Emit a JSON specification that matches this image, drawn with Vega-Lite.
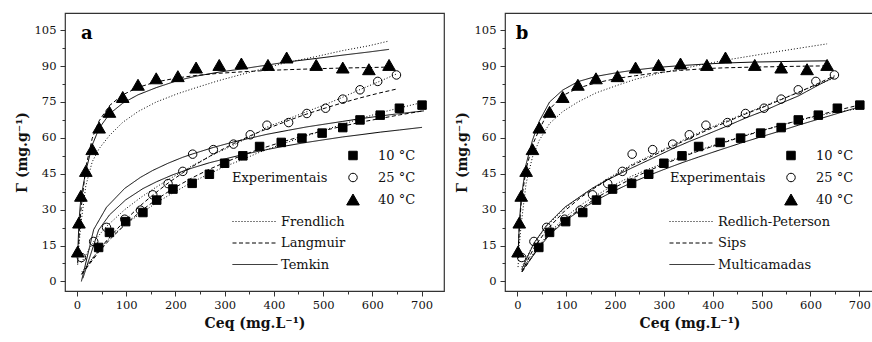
{
"$schema":"https://vega.github.io/schema/vega-lite/v6.json",
"background":"white",
"padding":{"left":14,"top":12,"right":1,"bottom":0},
"spacing":61,
"bounds":"flush",
"config":{"font":"DejaVu Serif","view":{"stroke":"#333","strokeWidth":1.2},
 "axis":{"domain":false,"grid":false,"tickColor":"#333","labelFont":"DejaVu Serif","labelFontSize":11.5,"labelColor":"#111","titleFont":"DejaVu Serif","titleFontSize":14,"titleFontWeight":"bold","titleColor":"#111"},
 "legend":{"labelFont":"DejaVu Serif","titleFont":"DejaVu Serif","labelColor":"#111","titleColor":"#111"}},
"datasets":{
"pts":[
{"T":"10 °C","x":44,"y":14.2},{"T":"10 °C","x":66,"y":20.5},{"T":"10 °C","x":99,"y":25},{"T":"10 °C","x":134,"y":28.8},{"T":"10 °C","x":162,"y":34},{"T":"10 °C","x":195,"y":38.6},{"T":"10 °C","x":234,"y":41},{"T":"10 °C","x":269,"y":44.8},{"T":"10 °C","x":300,"y":49.4},{"T":"10 °C","x":337,"y":52.5},{"T":"10 °C","x":371,"y":56.4},{"T":"10 °C","x":415,"y":58.1},{"T":"10 °C","x":457,"y":59.9},{"T":"10 °C","x":498,"y":62},{"T":"10 °C","x":540,"y":64.3},{"T":"10 °C","x":575,"y":67.5},{"T":"10 °C","x":616,"y":69.5},{"T":"10 °C","x":655,"y":72.4},{"T":"10 °C","x":701,"y":73.7},
{"T":"25 °C","x":9,"y":10},{"T":"25 °C","x":34,"y":16.7},{"T":"25 °C","x":60,"y":22.6},{"T":"25 °C","x":97,"y":26},{"T":"25 °C","x":129,"y":29.8},{"T":"25 °C","x":154,"y":36.2},{"T":"25 °C","x":185,"y":40.9},{"T":"25 °C","x":215,"y":46},{"T":"25 °C","x":235,"y":53.2},{"T":"25 °C","x":277,"y":55.1},{"T":"25 °C","x":318,"y":57.4},{"T":"25 °C","x":352,"y":61.3},{"T":"25 °C","x":386,"y":65.3},{"T":"25 °C","x":430,"y":66.4},{"T":"25 °C","x":467,"y":70.2},{"T":"25 °C","x":505,"y":72.4},{"T":"25 °C","x":540,"y":76.2},{"T":"25 °C","x":575,"y":80.1},{"T":"25 °C","x":611,"y":83.6},{"T":"25 °C","x":649,"y":86.3},
{"T":"40 °C","x":1.5,"y":12.5},{"T":"40 °C","x":4,"y":24.6},{"T":"40 °C","x":8,"y":35.8},{"T":"40 °C","x":18,"y":46.2},{"T":"40 °C","x":31,"y":55.3},{"T":"40 °C","x":45,"y":64.3},{"T":"40 °C","x":66,"y":70.9},{"T":"40 °C","x":93,"y":77.1},{"T":"40 °C","x":124,"y":82.2},{"T":"40 °C","x":161,"y":84.9},{"T":"40 °C","x":205,"y":85.8},{"T":"40 °C","x":242,"y":89.4},{"T":"40 °C","x":289,"y":90.5},{"T":"40 °C","x":334,"y":91.1},{"T":"40 °C","x":388,"y":90.5},{"T":"40 °C","x":426,"y":93.6},{"T":"40 °C","x":486,"y":90.5},{"T":"40 °C","x":540,"y":89.4},{"T":"40 °C","x":593,"y":88.7},{"T":"40 °C","x":634,"y":90.5}],
"fitA":[
{"m":"Frendlich","T":"10","x":10,"y":4},{"m":"Frendlich","T":"10","x":44,"y":13},{"m":"Frendlich","T":"10","x":66,"y":18},{"m":"Frendlich","T":"10","x":99,"y":24},{"m":"Frendlich","T":"10","x":134,"y":29},{"m":"Frendlich","T":"10","x":162,"y":33},{"m":"Frendlich","T":"10","x":195,"y":37},{"m":"Frendlich","T":"10","x":234,"y":41.5},{"m":"Frendlich","T":"10","x":269,"y":45},{"m":"Frendlich","T":"10","x":300,"y":48},{"m":"Frendlich","T":"10","x":337,"y":51},{"m":"Frendlich","T":"10","x":371,"y":54},{"m":"Frendlich","T":"10","x":415,"y":57.3},{"m":"Frendlich","T":"10","x":457,"y":60.2},{"m":"Frendlich","T":"10","x":498,"y":63},{"m":"Frendlich","T":"10","x":540,"y":65.7},{"m":"Frendlich","T":"10","x":575,"y":68},{"m":"Frendlich","T":"10","x":616,"y":70.5},{"m":"Frendlich","T":"10","x":655,"y":72.5},{"m":"Frendlich","T":"10","x":701,"y":74.8},
{"m":"Langmuir","T":"10","x":10,"y":3.1},{"m":"Langmuir","T":"10","x":44,"y":12.2},{"m":"Langmuir","T":"10","x":66,"y":17.4},{"m":"Langmuir","T":"10","x":99,"y":24},{"m":"Langmuir","T":"10","x":134,"y":30.1},{"m":"Langmuir","T":"10","x":162,"y":34.3},{"m":"Langmuir","T":"10","x":195,"y":38.8},{"m":"Langmuir","T":"10","x":234,"y":43.3},{"m":"Langmuir","T":"10","x":269,"y":46.9},{"m":"Langmuir","T":"10","x":300,"y":49.7},{"m":"Langmuir","T":"10","x":337,"y":52.8},{"m":"Langmuir","T":"10","x":371,"y":55.3},{"m":"Langmuir","T":"10","x":415,"y":58.2},{"m":"Langmuir","T":"10","x":457,"y":60.7},{"m":"Langmuir","T":"10","x":498,"y":62.9},{"m":"Langmuir","T":"10","x":540,"y":64.9},{"m":"Langmuir","T":"10","x":575,"y":66.5},{"m":"Langmuir","T":"10","x":616,"y":68.1},{"m":"Langmuir","T":"10","x":655,"y":69.6},{"m":"Langmuir","T":"10","x":701,"y":71.2},
{"m":"Temkin","T":"10","x":12,"y":1.3},{"m":"Temkin","T":"10","x":44,"y":21.5},{"m":"Temkin","T":"10","x":66,"y":27.8},{"m":"Temkin","T":"10","x":99,"y":34.1},{"m":"Temkin","T":"10","x":134,"y":38.8},{"m":"Temkin","T":"10","x":162,"y":41.7},{"m":"Temkin","T":"10","x":195,"y":44.6},{"m":"Temkin","T":"10","x":234,"y":47.4},{"m":"Temkin","T":"10","x":269,"y":49.6},{"m":"Temkin","T":"10","x":300,"y":51.2},{"m":"Temkin","T":"10","x":337,"y":53},{"m":"Temkin","T":"10","x":371,"y":54.5},{"m":"Temkin","T":"10","x":415,"y":56.3},{"m":"Temkin","T":"10","x":457,"y":57.8},{"m":"Temkin","T":"10","x":498,"y":59.1},{"m":"Temkin","T":"10","x":540,"y":60.4},{"m":"Temkin","T":"10","x":575,"y":61.3},{"m":"Temkin","T":"10","x":616,"y":62.4},{"m":"Temkin","T":"10","x":655,"y":63.3},{"m":"Temkin","T":"10","x":701,"y":64.4},
{"m":"Frendlich","T":"25","x":9,"y":7.9},{"m":"Frendlich","T":"25","x":34,"y":16.7},{"m":"Frendlich","T":"25","x":60,"y":23},{"m":"Frendlich","T":"25","x":97,"y":30},{"m":"Frendlich","T":"25","x":129,"y":35},{"m":"Frendlich","T":"25","x":154,"y":38.5},{"m":"Frendlich","T":"25","x":185,"y":42.5},{"m":"Frendlich","T":"25","x":215,"y":46},{"m":"Frendlich","T":"25","x":235,"y":48.5},{"m":"Frendlich","T":"25","x":277,"y":53},{"m":"Frendlich","T":"25","x":318,"y":57},{"m":"Frendlich","T":"25","x":352,"y":60.5},{"m":"Frendlich","T":"25","x":386,"y":64.5},{"m":"Frendlich","T":"25","x":430,"y":68},{"m":"Frendlich","T":"25","x":467,"y":71},{"m":"Frendlich","T":"25","x":505,"y":74},{"m":"Frendlich","T":"25","x":540,"y":77},{"m":"Frendlich","T":"25","x":575,"y":80.2},{"m":"Frendlich","T":"25","x":611,"y":83.3},{"m":"Frendlich","T":"25","x":649,"y":86.7},
{"m":"Langmuir","T":"25","x":9,"y":2.9},{"m":"Langmuir","T":"25","x":34,"y":10.2},{"m":"Langmuir","T":"25","x":60,"y":17},{"m":"Langmuir","T":"25","x":97,"y":25.4},{"m":"Langmuir","T":"25","x":129,"y":31.7},{"m":"Langmuir","T":"25","x":154,"y":36.1},{"m":"Langmuir","T":"25","x":185,"y":41.1},{"m":"Langmuir","T":"25","x":215,"y":45.4},{"m":"Langmuir","T":"25","x":235,"y":48.1},{"m":"Langmuir","T":"25","x":277,"y":53.2},{"m":"Langmuir","T":"25","x":318,"y":57.6},{"m":"Langmuir","T":"25","x":352,"y":60.9},{"m":"Langmuir","T":"25","x":386,"y":63.8},{"m":"Langmuir","T":"25","x":430,"y":67.3},{"m":"Langmuir","T":"25","x":467,"y":70},{"m":"Langmuir","T":"25","x":505,"y":72.5},{"m":"Langmuir","T":"25","x":540,"y":74.7},{"m":"Langmuir","T":"25","x":575,"y":76.7},{"m":"Langmuir","T":"25","x":611,"y":78.6},{"m":"Langmuir","T":"25","x":649,"y":80.4},
{"m":"Temkin","T":"25","x":9,"y":0},{"m":"Temkin","T":"25","x":34,"y":21.7},{"m":"Temkin","T":"25","x":60,"y":31},{"m":"Temkin","T":"25","x":97,"y":38.9},{"m":"Temkin","T":"25","x":129,"y":43.5},{"m":"Temkin","T":"25","x":154,"y":46.4},{"m":"Temkin","T":"25","x":185,"y":49.4},{"m":"Temkin","T":"25","x":215,"y":51.9},{"m":"Temkin","T":"25","x":235,"y":53.3},{"m":"Temkin","T":"25","x":277,"y":56},{"m":"Temkin","T":"25","x":318,"y":58.3},{"m":"Temkin","T":"25","x":352,"y":59.9},{"m":"Temkin","T":"25","x":386,"y":61.5},{"m":"Temkin","T":"25","x":430,"y":63.2},{"m":"Temkin","T":"25","x":467,"y":64.6},{"m":"Temkin","T":"25","x":505,"y":65.8},{"m":"Temkin","T":"25","x":540,"y":66.9},{"m":"Temkin","T":"25","x":575,"y":68},{"m":"Temkin","T":"25","x":611,"y":69},{"m":"Temkin","T":"25","x":649,"y":70},{"m":"Temkin","T":"25","x":705,"y":71.3},
{"m":"Frendlich","T":"40","x":1.5,"y":7},{"m":"Frendlich","T":"40","x":4,"y":15},{"m":"Frendlich","T":"40","x":8,"y":24},{"m":"Frendlich","T":"40","x":18,"y":40},{"m":"Frendlich","T":"40","x":31,"y":50},{"m":"Frendlich","T":"40","x":45,"y":55.5},{"m":"Frendlich","T":"40","x":66,"y":61},{"m":"Frendlich","T":"40","x":93,"y":66.5},{"m":"Frendlich","T":"40","x":124,"y":71},{"m":"Frendlich","T":"40","x":161,"y":75},{"m":"Frendlich","T":"40","x":205,"y":78.5},{"m":"Frendlich","T":"40","x":242,"y":81},{"m":"Frendlich","T":"40","x":289,"y":84},{"m":"Frendlich","T":"40","x":334,"y":86.5},{"m":"Frendlich","T":"40","x":388,"y":89.5},{"m":"Frendlich","T":"40","x":426,"y":91.5},{"m":"Frendlich","T":"40","x":486,"y":94},{"m":"Frendlich","T":"40","x":540,"y":96.5},{"m":"Frendlich","T":"40","x":593,"y":98.5},{"m":"Frendlich","T":"40","x":634,"y":100.5},
{"m":"Langmuir","T":"40","x":1.5,"y":7.6},{"m":"Langmuir","T":"40","x":4,"y":17.8},{"m":"Langmuir","T":"40","x":8,"y":29.8},{"m":"Langmuir","T":"40","x":18,"y":47.8},{"m":"Langmuir","T":"40","x":31,"y":59.8},{"m":"Langmuir","T":"40","x":45,"y":67.1},{"m":"Langmuir","T":"40","x":66,"y":73.5},{"m":"Langmuir","T":"40","x":93,"y":78},{"m":"Langmuir","T":"40","x":124,"y":81.1},{"m":"Langmuir","T":"40","x":161,"y":83.4},{"m":"Langmuir","T":"40","x":205,"y":85.1},{"m":"Langmuir","T":"40","x":242,"y":86.1},{"m":"Langmuir","T":"40","x":289,"y":87},{"m":"Langmuir","T":"40","x":334,"y":87.6},{"m":"Langmuir","T":"40","x":388,"y":88.2},{"m":"Langmuir","T":"40","x":426,"y":88.5},{"m":"Langmuir","T":"40","x":486,"y":88.9},{"m":"Langmuir","T":"40","x":540,"y":89.2},{"m":"Langmuir","T":"40","x":593,"y":89.4},{"m":"Langmuir","T":"40","x":634,"y":89.6},
{"m":"Temkin","T":"40","x":1.5,"y":11},{"m":"Temkin","T":"40","x":4,"y":25},{"m":"Temkin","T":"40","x":8,"y":35},{"m":"Temkin","T":"40","x":18,"y":46},{"m":"Temkin","T":"40","x":31,"y":57},{"m":"Temkin","T":"40","x":45,"y":64},{"m":"Temkin","T":"40","x":66,"y":70},{"m":"Temkin","T":"40","x":93,"y":74.5},{"m":"Temkin","T":"40","x":124,"y":78},{"m":"Temkin","T":"40","x":161,"y":81},{"m":"Temkin","T":"40","x":205,"y":84},{"m":"Temkin","T":"40","x":242,"y":85.8},{"m":"Temkin","T":"40","x":289,"y":87.5},{"m":"Temkin","T":"40","x":334,"y":88.8},{"m":"Temkin","T":"40","x":388,"y":90.5},{"m":"Temkin","T":"40","x":426,"y":91.7},{"m":"Temkin","T":"40","x":486,"y":93.2},{"m":"Temkin","T":"40","x":540,"y":94.6},{"m":"Temkin","T":"40","x":593,"y":95.9},{"m":"Temkin","T":"40","x":634,"y":97}],
"fitB":[
{"m":"Redlich-Peterson","T":"10","x":10,"y":5},{"m":"Redlich-Peterson","T":"10","x":44,"y":15},{"m":"Redlich-Peterson","T":"10","x":66,"y":20.5},{"m":"Redlich-Peterson","T":"10","x":99,"y":27},{"m":"Redlich-Peterson","T":"10","x":134,"y":32.5},{"m":"Redlich-Peterson","T":"10","x":162,"y":36},{"m":"Redlich-Peterson","T":"10","x":195,"y":40},{"m":"Redlich-Peterson","T":"10","x":234,"y":44},{"m":"Redlich-Peterson","T":"10","x":269,"y":47},{"m":"Redlich-Peterson","T":"10","x":300,"y":49.5},{"m":"Redlich-Peterson","T":"10","x":337,"y":52.3},{"m":"Redlich-Peterson","T":"10","x":371,"y":54.8},{"m":"Redlich-Peterson","T":"10","x":415,"y":57.8},{"m":"Redlich-Peterson","T":"10","x":457,"y":60.5},{"m":"Redlich-Peterson","T":"10","x":498,"y":63},{"m":"Redlich-Peterson","T":"10","x":540,"y":65.3},{"m":"Redlich-Peterson","T":"10","x":575,"y":67.2},{"m":"Redlich-Peterson","T":"10","x":616,"y":69.3},{"m":"Redlich-Peterson","T":"10","x":655,"y":70.8},{"m":"Redlich-Peterson","T":"10","x":701,"y":72.3},
{"m":"Sips","T":"10","x":10,"y":4},{"m":"Sips","T":"10","x":44,"y":14.5},{"m":"Sips","T":"10","x":66,"y":20},{"m":"Sips","T":"10","x":99,"y":26},{"m":"Sips","T":"10","x":134,"y":31},{"m":"Sips","T":"10","x":162,"y":35},{"m":"Sips","T":"10","x":195,"y":38.8},{"m":"Sips","T":"10","x":234,"y":43},{"m":"Sips","T":"10","x":269,"y":46.3},{"m":"Sips","T":"10","x":300,"y":49},{"m":"Sips","T":"10","x":337,"y":52},{"m":"Sips","T":"10","x":371,"y":54.5},{"m":"Sips","T":"10","x":415,"y":57.5},{"m":"Sips","T":"10","x":457,"y":60.3},{"m":"Sips","T":"10","x":498,"y":62.8},{"m":"Sips","T":"10","x":540,"y":65.3},{"m":"Sips","T":"10","x":575,"y":67.3},{"m":"Sips","T":"10","x":616,"y":69.5},{"m":"Sips","T":"10","x":655,"y":71.5},{"m":"Sips","T":"10","x":701,"y":73.8},
{"m":"Multicamadas","T":"10","x":10,"y":4.5},{"m":"Multicamadas","T":"10","x":44,"y":14},{"m":"Multicamadas","T":"10","x":66,"y":19.5},{"m":"Multicamadas","T":"10","x":99,"y":25.5},{"m":"Multicamadas","T":"10","x":134,"y":30.5},{"m":"Multicamadas","T":"10","x":162,"y":34},{"m":"Multicamadas","T":"10","x":195,"y":37.5},{"m":"Multicamadas","T":"10","x":234,"y":41.3},{"m":"Multicamadas","T":"10","x":269,"y":44.3},{"m":"Multicamadas","T":"10","x":300,"y":46.8},{"m":"Multicamadas","T":"10","x":337,"y":49.6},{"m":"Multicamadas","T":"10","x":371,"y":52},{"m":"Multicamadas","T":"10","x":415,"y":55},{"m":"Multicamadas","T":"10","x":457,"y":57.8},{"m":"Multicamadas","T":"10","x":498,"y":60.4},{"m":"Multicamadas","T":"10","x":540,"y":63},{"m":"Multicamadas","T":"10","x":575,"y":65.3},{"m":"Multicamadas","T":"10","x":616,"y":67.8},{"m":"Multicamadas","T":"10","x":655,"y":70.2},{"m":"Multicamadas","T":"10","x":701,"y":73},
{"m":"Redlich-Peterson","T":"25","x":9,"y":6},{"m":"Redlich-Peterson","T":"25","x":34,"y":16},{"m":"Redlich-Peterson","T":"25","x":60,"y":23},{"m":"Redlich-Peterson","T":"25","x":97,"y":30.5},{"m":"Redlich-Peterson","T":"25","x":129,"y":35.5},{"m":"Redlich-Peterson","T":"25","x":154,"y":39},{"m":"Redlich-Peterson","T":"25","x":185,"y":43},{"m":"Redlich-Peterson","T":"25","x":215,"y":46.5},{"m":"Redlich-Peterson","T":"25","x":235,"y":49},{"m":"Redlich-Peterson","T":"25","x":277,"y":53},{"m":"Redlich-Peterson","T":"25","x":318,"y":57},{"m":"Redlich-Peterson","T":"25","x":352,"y":60.3},{"m":"Redlich-Peterson","T":"25","x":386,"y":63.5},{"m":"Redlich-Peterson","T":"25","x":430,"y":67.3},{"m":"Redlich-Peterson","T":"25","x":467,"y":70.3},{"m":"Redlich-Peterson","T":"25","x":505,"y":73.3},{"m":"Redlich-Peterson","T":"25","x":540,"y":76.2},{"m":"Redlich-Peterson","T":"25","x":575,"y":79},{"m":"Redlich-Peterson","T":"25","x":611,"y":82},{"m":"Redlich-Peterson","T":"25","x":649,"y":85},
{"m":"Sips","T":"25","x":9,"y":4},{"m":"Sips","T":"25","x":34,"y":14},{"m":"Sips","T":"25","x":60,"y":21.5},{"m":"Sips","T":"25","x":97,"y":29.5},{"m":"Sips","T":"25","x":129,"y":35},{"m":"Sips","T":"25","x":154,"y":38.5},{"m":"Sips","T":"25","x":185,"y":42.5},{"m":"Sips","T":"25","x":215,"y":46},{"m":"Sips","T":"25","x":235,"y":48.5},{"m":"Sips","T":"25","x":277,"y":52.5},{"m":"Sips","T":"25","x":318,"y":56.5},{"m":"Sips","T":"25","x":352,"y":59.8},{"m":"Sips","T":"25","x":386,"y":63},{"m":"Sips","T":"25","x":430,"y":66.8},{"m":"Sips","T":"25","x":467,"y":70},{"m":"Sips","T":"25","x":505,"y":73},{"m":"Sips","T":"25","x":540,"y":76},{"m":"Sips","T":"25","x":575,"y":79},{"m":"Sips","T":"25","x":611,"y":82.3},{"m":"Sips","T":"25","x":649,"y":86},
{"m":"Multicamadas","T":"25","x":9,"y":5},{"m":"Multicamadas","T":"25","x":34,"y":16},{"m":"Multicamadas","T":"25","x":60,"y":23.5},{"m":"Multicamadas","T":"25","x":97,"y":31},{"m":"Multicamadas","T":"25","x":129,"y":35.5},{"m":"Multicamadas","T":"25","x":154,"y":39},{"m":"Multicamadas","T":"25","x":185,"y":42.5},{"m":"Multicamadas","T":"25","x":215,"y":45.5},{"m":"Multicamadas","T":"25","x":235,"y":47.5},{"m":"Multicamadas","T":"25","x":277,"y":51.5},{"m":"Multicamadas","T":"25","x":318,"y":55.5},{"m":"Multicamadas","T":"25","x":352,"y":58.5},{"m":"Multicamadas","T":"25","x":386,"y":61.3},{"m":"Multicamadas","T":"25","x":430,"y":65},{"m":"Multicamadas","T":"25","x":467,"y":68.3},{"m":"Multicamadas","T":"25","x":505,"y":71.3},{"m":"Multicamadas","T":"25","x":540,"y":74.5},{"m":"Multicamadas","T":"25","x":575,"y":77.5},{"m":"Multicamadas","T":"25","x":611,"y":81.5},{"m":"Multicamadas","T":"25","x":649,"y":85.5},
{"m":"Redlich-Peterson","T":"40","x":1.5,"y":6},{"m":"Redlich-Peterson","T":"40","x":4,"y":15},{"m":"Redlich-Peterson","T":"40","x":8,"y":24},{"m":"Redlich-Peterson","T":"40","x":18,"y":41},{"m":"Redlich-Peterson","T":"40","x":31,"y":52},{"m":"Redlich-Peterson","T":"40","x":45,"y":59},{"m":"Redlich-Peterson","T":"40","x":66,"y":66},{"m":"Redlich-Peterson","T":"40","x":93,"y":71},{"m":"Redlich-Peterson","T":"40","x":124,"y":75},{"m":"Redlich-Peterson","T":"40","x":161,"y":78.8},{"m":"Redlich-Peterson","T":"40","x":205,"y":82},{"m":"Redlich-Peterson","T":"40","x":242,"y":84.5},{"m":"Redlich-Peterson","T":"40","x":289,"y":87},{"m":"Redlich-Peterson","T":"40","x":334,"y":88.8},{"m":"Redlich-Peterson","T":"40","x":388,"y":91},{"m":"Redlich-Peterson","T":"40","x":426,"y":92.5},{"m":"Redlich-Peterson","T":"40","x":486,"y":94.5},{"m":"Redlich-Peterson","T":"40","x":540,"y":96.3},{"m":"Redlich-Peterson","T":"40","x":593,"y":98},{"m":"Redlich-Peterson","T":"40","x":634,"y":99.3},
{"m":"Sips","T":"40","x":1.5,"y":10},{"m":"Sips","T":"40","x":4,"y":22},{"m":"Sips","T":"40","x":8,"y":33},{"m":"Sips","T":"40","x":18,"y":47},{"m":"Sips","T":"40","x":31,"y":57},{"m":"Sips","T":"40","x":45,"y":63.5},{"m":"Sips","T":"40","x":66,"y":72},{"m":"Sips","T":"40","x":93,"y":77.7},{"m":"Sips","T":"40","x":124,"y":80.8},{"m":"Sips","T":"40","x":161,"y":83},{"m":"Sips","T":"40","x":205,"y":84.9},{"m":"Sips","T":"40","x":242,"y":86},{"m":"Sips","T":"40","x":289,"y":87.3},{"m":"Sips","T":"40","x":334,"y":88.2},{"m":"Sips","T":"40","x":388,"y":89},{"m":"Sips","T":"40","x":426,"y":89.3},{"m":"Sips","T":"40","x":486,"y":89.6},{"m":"Sips","T":"40","x":540,"y":89.8},{"m":"Sips","T":"40","x":593,"y":90},{"m":"Sips","T":"40","x":634,"y":90.1},
{"m":"Multicamadas","T":"40","x":1.5,"y":11},{"m":"Multicamadas","T":"40","x":4,"y":24},{"m":"Multicamadas","T":"40","x":8,"y":35},{"m":"Multicamadas","T":"40","x":18,"y":49},{"m":"Multicamadas","T":"40","x":31,"y":59},{"m":"Multicamadas","T":"40","x":45,"y":67},{"m":"Multicamadas","T":"40","x":66,"y":75},{"m":"Multicamadas","T":"40","x":93,"y":80},{"m":"Multicamadas","T":"40","x":124,"y":83.5},{"m":"Multicamadas","T":"40","x":161,"y":85.7},{"m":"Multicamadas","T":"40","x":205,"y":87.3},{"m":"Multicamadas","T":"40","x":242,"y":88.4},{"m":"Multicamadas","T":"40","x":289,"y":89.5},{"m":"Multicamadas","T":"40","x":334,"y":90.2},{"m":"Multicamadas","T":"40","x":388,"y":90.9},{"m":"Multicamadas","T":"40","x":426,"y":91.3},{"m":"Multicamadas","T":"40","x":486,"y":91.7},{"m":"Multicamadas","T":"40","x":540,"y":91.9},{"m":"Multicamadas","T":"40","x":593,"y":92.1},{"m":"Multicamadas","T":"40","x":634,"y":92.2}],
"labA":[{"x":8,"y":101.5,"t":"a"}],
"labB":[{"x":-3,"y":101.5,"t":"b"}]
},
"resolve":{"scale":{"x":"independent","strokeDash":"independent","shape":"independent","fill":"independent","size":"independent"},"legend":{"strokeDash":"independent","shape":"independent","fill":"independent","size":"independent"}},
"hconcat":[
{"width":379,"height":278,
 "encoding":{
  "x":{"field":"x","type":"quantitative","scale":{"domain":[-24.3,745.6],"nice":false,"zero":false},
   "axis":{"title":"Ceq (mg.L⁻¹)","values":[0,50,100,150,200,250,300,350,400,450,500,550,600,650,700],"labelExpr":"datum.value % 100 === 0 ? datum.label : ''","tickSize":{"condition":{"test":"datum.value % 100 === 0","value":5},"value":3},"labelPadding":3,"titlePadding":6}},
  "y":{"field":"y","type":"quantitative","scale":{"domain":[-4,112.2],"nice":false,"zero":false},
   "axis":{"title":"Γ (mg.g⁻¹)","values":[0,7.5,15,22.5,30,37.5,45,52.5,60,67.5,75,82.5,90,97.5,105],"labelExpr":"datum.value % 15 === 0 ? datum.label : ''","tickSize":{"condition":{"test":"datum.value % 15 === 0","value":5},"value":3},"labelPadding":4,"titlePadding":5}}},
 "layer":[
  {"data":{"name":"fitA"},"mark":{"type":"line","color":"black","strokeWidth":1},
   "encoding":{"detail":{"field":"T"},
    "strokeDash":{"field":"m","type":"nominal","scale":{"domain":["Frendlich","Langmuir","Temkin"],"range":[[1,2],[4,2.5],[1,0]]},
     "legend":{"title":null,"orient":"none","legendX":167,"legendY":202,"symbolType":"stroke","symbolSize":2025,"clipHeight":13,"rowPadding":7.5,"labelOffset":3,"labelFontSize":13,"symbolStrokeWidth":1,"symbolStrokeColor":"black","padding":0}}}},
  {"data":{"name":"pts"},"mark":{"type":"point","filled":true,"stroke":"black","strokeWidth":1,"opacity":1},
   "encoding":{
    "shape":{"field":"T","type":"nominal","scale":{"domain":["10 °C","25 °C","40 °C"],"range":["square","circle","triangle-up"]},
     "legend":{"title":"Experimentais","titleOrient":"left","titleAnchor":"middle","titleBaseline":"middle","titleFontSize":13,"titleFontWeight":"normal","titlePadding":18,"orient":"none","legendX":167,"legendY":136,"labelOffset":18,"clipHeight":13,"rowPadding":8,"labelFontSize":13,"symbolStrokeColor":"black","symbolStrokeWidth":1,"padding":0}},
    "fill":{"field":"T","type":"nominal","scale":{"domain":["10 °C","25 °C","40 °C"],"range":["black","transparent","black"]}},
    "size":{"field":"T","type":"nominal","scale":{"type":"ordinal","domain":["10 °C","25 °C","40 °C"],"range":[72,72,160]}}}},
  {"data":{"name":"labA"},"mark":{"type":"text","align":"left","baseline":"alphabetic","fontSize":18,"fontWeight":"bold","font":"DejaVu Serif","color":"black"},
   "encoding":{"text":{"field":"t"}}}
 ]},
{"width":369,"height":278,
 "encoding":{
  "x":{"field":"x","type":"quantitative","scale":{"domain":[-25.2,730],"nice":false,"zero":false},
   "axis":{"title":"Ceq (mg.L⁻¹)","values":[0,50,100,150,200,250,300,350,400,450,500,550,600,650,700],"labelExpr":"datum.value % 100 === 0 ? datum.label : ''","tickSize":{"condition":{"test":"datum.value % 100 === 0","value":5},"value":3},"labelPadding":3,"titlePadding":6}},
  "y":{"field":"y","type":"quantitative","scale":{"domain":[-4,112.2],"nice":false,"zero":false},
   "axis":{"title":"Γ (mg.g⁻¹)","values":[0,7.5,15,22.5,30,37.5,45,52.5,60,67.5,75,82.5,90,97.5,105],"labelExpr":"datum.value % 15 === 0 ? datum.label : ''","tickSize":{"condition":{"test":"datum.value % 15 === 0","value":5},"value":3},"labelPadding":4,"titlePadding":5}}},
 "layer":[
  {"data":{"name":"fitB"},"mark":{"type":"line","color":"black","strokeWidth":1},
   "encoding":{"detail":{"field":"T"},
    "strokeDash":{"field":"m","type":"nominal","scale":{"domain":["Redlich-Peterson","Sips","Multicamadas"],"range":[[1,2],[4,2.5],[1,0]]},
     "legend":{"title":null,"orient":"none","legendX":164,"legendY":202,"symbolType":"stroke","symbolSize":2025,"clipHeight":13,"rowPadding":7.5,"labelOffset":3,"labelFontSize":13,"symbolStrokeWidth":1,"symbolStrokeColor":"black","padding":0}}}},
  {"data":{"name":"pts"},"mark":{"type":"point","filled":true,"stroke":"black","strokeWidth":1,"opacity":1},
   "encoding":{
    "shape":{"field":"T","type":"nominal","scale":{"domain":["10 °C","25 °C","40 °C"],"range":["square","circle","triangle-up"]},
     "legend":{"title":"Experimentais","titleOrient":"left","titleAnchor":"middle","titleBaseline":"middle","titleFontSize":13,"titleFontWeight":"normal","titlePadding":18,"orient":"none","legendX":165,"legendY":136,"labelOffset":18,"clipHeight":13,"rowPadding":8,"labelFontSize":13,"symbolStrokeColor":"black","symbolStrokeWidth":1,"padding":0}},
    "fill":{"field":"T","type":"nominal","scale":{"domain":["10 °C","25 °C","40 °C"],"range":["black","transparent","black"]}},
    "size":{"field":"T","type":"nominal","scale":{"type":"ordinal","domain":["10 °C","25 °C","40 °C"],"range":[72,72,160]}}}},
  {"data":{"name":"labB"},"mark":{"type":"text","align":"left","baseline":"alphabetic","fontSize":18,"fontWeight":"bold","font":"DejaVu Serif","color":"black"},
   "encoding":{"text":{"field":"t"}}}
 ]}
]
}
